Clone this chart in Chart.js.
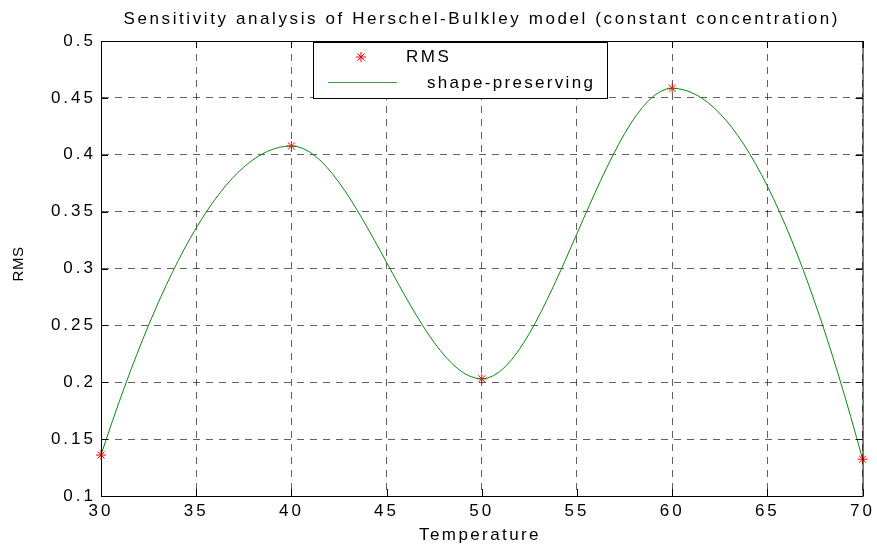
<!DOCTYPE html>
<html><head><meta charset="utf-8">
<script src="https://cdn.jsdelivr.net/npm/chart.js@4.4.1/dist/chart.umd.min.js"></script>
<style>html,body{margin:0;padding:0;background:#fff;}canvas{display:block;}</style>
</head><body>
<canvas id="c" width="877" height="545"></canvas>
<script>
// ---- data ----
const temperature = [30, 40, 50, 60, 70];
const rmsValues   = [0.136, 0.4077, 0.203, 0.4584, 0.1324];
const xTickLabels = ['30','35','40','45','50','55','60','65','70'];
const yTickLabels = ['0.1','0.15','0.2','0.25','0.3','0.35','0.4','0.45','0.5'];
const seriesNames = ['RMS', 'shape-preserving'];
const chartTitle  = 'Sensitivity analysis of Herschel-Bulkley model (constant concentration)';
const xAxisTitle  = 'Temperature';
const yAxisTitle  = 'RMS';

const FONT = '"Liberation Sans", Arial, Helvetica, sans-serif';
const pts = temperature.map((t, i) => ({x: t, y: rmsValues[i]}));

// MATLAB "shape-preserving" (pchip) end tangents for Chart.js monotone curve
const pchipEnds = {
  id: 'pchipEnds',
  beforeDatasetDraw(chart, args) {
    const meta = args.meta;
    const line = meta.dataset;
    if (!line || line.options.cubicInterpolationMode !== 'monotone') return;
    try {
      line.updateControlPoints(chart.chartArea, 'x');
      const p = line.points;
      const n = p.length;
      if (n < 3) return;
      const endSlope = (a, b, c) => {
        const h1 = b.x - a.x, h2 = c.x - b.x;
        const d1 = (b.y - a.y) / h1, d2 = (c.y - b.y) / h2;
        let m = ((2 * h1 + h2) * d1 - h1 * d2) / (h1 + h2);
        if (Math.sign(m) !== Math.sign(d1)) m = 0;
        else if (Math.sign(d1) !== Math.sign(d2) && Math.abs(m) > Math.abs(3 * d1)) m = 3 * d1;
        return m;
      };
      const m0 = endSlope(p[0], p[1], p[2]);
      const h0 = p[1].x - p[0].x;
      p[0].cp2x = p[0].x + h0 / 3; p[0].cp2y = p[0].y + m0 * h0 / 3;
      const mn = endSlope(p[n-1], p[n-2], p[n-3]);
      const hn = p[n-1].x - p[n-2].x;
      p[n-1].cp1x = p[n-1].x - hn / 3; p[n-1].cp1y = p[n-1].y - mn * hn / 3;
    } catch (e) {}
  }
};

const frame = {
  id: 'frame',
  beforeDraw(chart) { chart.ctx.letterSpacing = '3px'; },
  afterDraw(chart) {
    const {ctx, chartArea: a, scales: {x, y}} = chart;
    ctx.save();
    ctx.letterSpacing = '0px';
    ctx.strokeStyle = '#000';
    ctx.lineWidth = 1;
    ctx.strokeRect(a.left + 0.5, a.top + 0.5, a.right - a.left, a.bottom - a.top);
    const tl = 7;
    ctx.beginPath();
    x.ticks.forEach(t => {
      const px = Math.round(x.getPixelForValue(t.value)) + 0.5;
      ctx.moveTo(px, a.bottom); ctx.lineTo(px, a.bottom - tl);
      ctx.moveTo(px, a.top); ctx.lineTo(px, a.top + tl);
    });
    y.ticks.forEach(t => {
      const py = Math.round(y.getPixelForValue(t.value)) + 0.5;
      ctx.moveTo(a.left, py); ctx.lineTo(a.left + tl, py);
      ctx.moveTo(a.right, py); ctx.lineTo(a.right - tl, py);
    });
    ctx.stroke();

    // legend
    const L = {x: 313, y: 42, w: 294, h: 56};
    ctx.fillStyle = '#fff';
    ctx.fillRect(L.x, L.y, L.w, L.h);
    ctx.strokeStyle = '#000';
    ctx.strokeRect(L.x + 0.5, L.y + 0.5, L.w, L.h);
    ctx.strokeStyle = 'red';
    ctx.lineWidth = 1;
    Chart.helpers.drawPoint(ctx, {pointStyle: 'star', radius: 5, borderWidth: 1}, 361, 57);
    ctx.strokeStyle = '#3c9e3c';
    ctx.beginPath(); ctx.moveTo(328, 82.5); ctx.lineTo(397, 82.5); ctx.stroke();

    ctx.fillStyle = '#000';
    ctx.font = '17px ' + FONT;
    ctx.letterSpacing = '2.5px';
    ctx.textAlign = 'left';
    ctx.textBaseline = 'middle';
    ctx.fillText(seriesNames[0], 406, 57);
    ctx.letterSpacing = '2.3px';
    ctx.fillText(seriesNames[1], 427, 83);

    // title
    ctx.textAlign = 'center';
    ctx.textBaseline = 'alphabetic';
    ctx.letterSpacing = '2.6px';
    ctx.fillText(chartTitle, (a.left + a.right) / 2, 24);
    ctx.letterSpacing = '2.4px';
    ctx.fillText(xAxisTitle, 480, 540);

    // y title
    ctx.letterSpacing = '0.5px';
    ctx.font = '15px ' + FONT;
    ctx.translate(23, 264);
    ctx.rotate(-Math.PI / 2);
    ctx.textBaseline = 'alphabetic';
    ctx.fillText(yAxisTitle, 0, 0);
    ctx.restore();
  }
};

new Chart(document.getElementById('c'), {
  type: 'scatter',
  data: {
    datasets: [
      {
        label: seriesNames[0],
        data: pts,
        showLine: false,
        pointStyle: 'star',
        pointRadius: 5,
        pointHoverRadius: 5,
        pointBorderWidth: 1,
        borderColor: 'red',
        backgroundColor: 'red',
        clip: false,
        order: 1
      },
      {
        label: seriesNames[1],
        data: pts,
        showLine: true,
        cubicInterpolationMode: 'monotone',
        borderColor: '#0a8a0a',
        borderWidth: 1,
        pointRadius: 0,
        pointHoverRadius: 0,
        fill: false,
        clip: false,
        order: 0
      }
    ]
  },
  options: {
    responsive: false,
    devicePixelRatio: 1,
    animation: false,
    events: [],
    layout: {padding: {top: 41, right: 14, left: 0, bottom: 0}},
    plugins: {legend: {display: false}, tooltip: {enabled: false}, title: {display: false}},
    scales: {
      x: {
        type: 'linear',
        min: 30, max: 70,
        afterBuildTicks: s => { s.ticks = xTickLabels.map(v => ({value: +v})); },
        afterFit: s => { s.height = 49; },
        ticks: {
          callback: v => xTickLabels.find(l => +l === v) ?? '',
          font: {family: FONT, size: 17},
          color: '#000',
          padding: 5,
          maxRotation: 0,
          autoSkip: false
        },
        grid: {color: 'rgba(0,0,0,0.62)', lineWidth: 1, drawTicks: false},
        border: {display: true, color: '#000', width: 1, dash: [7, 6]}
      },
      y: {
        type: 'linear',
        min: 0.1, max: 0.5,
        afterBuildTicks: s => { s.ticks = yTickLabels.map(v => ({value: +v})); },
        afterFit: s => { s.width = 101; },
        ticks: {
          callback: v => yTickLabels.find(l => Math.abs(+l - v) < 1e-9) ?? '',
          font: {family: FONT, size: 17},
          color: '#000',
          padding: 5,
          autoSkip: false
        },
        grid: {color: 'rgba(0,0,0,0.62)', lineWidth: 1, drawTicks: false},
        border: {display: true, color: '#000', width: 1, dash: [7, 6]}
      }
    }
  },
  plugins: [pchipEnds, frame]
});
</script>
</body></html>
